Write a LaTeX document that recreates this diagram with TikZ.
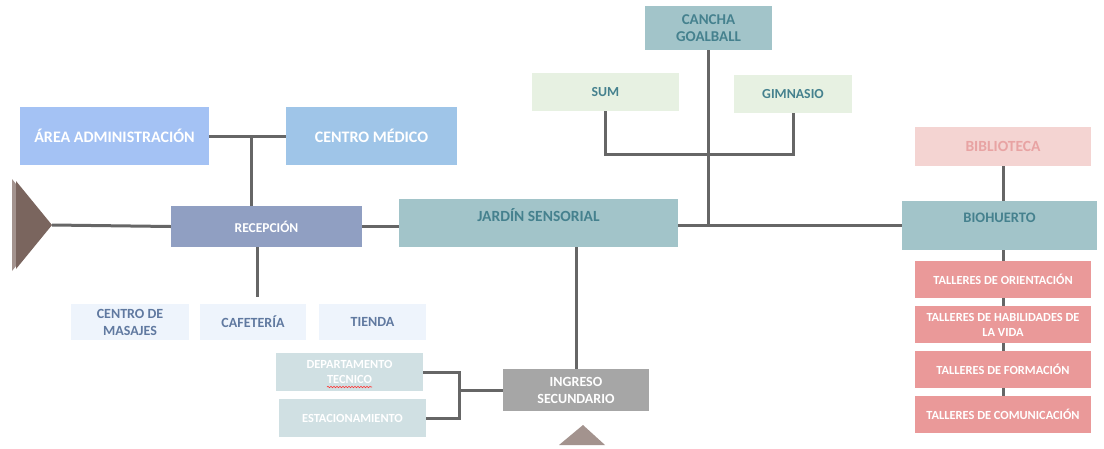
\documentclass[tikz,border=0pt]{standalone}
\usepackage{fontspec}
\setmainfont{Carlito}
\usetikzlibrary{decorations.pathmorphing}

\definecolor{linea}{HTML}{666666}
\definecolor{azuladm}{HTML}{A4C2F4}
\definecolor{azulmed}{HTML}{9FC5E8}
\definecolor{pizarra}{HTML}{909FC2}
\definecolor{hielo}{HTML}{EEF4FC}
\definecolor{hielotxt}{HTML}{6079A0}
\definecolor{grisver}{HTML}{D0E0E3}
\definecolor{gris}{HTML}{A6A6A6}
\definecolor{turquesa}{HTML}{A2C4C9}
\definecolor{turqtxt}{HTML}{45818E}
\definecolor{menta}{HTML}{E7F1E2}
\definecolor{rosa}{HTML}{F4D4D2}
\definecolor{rosatxt}{HTML}{E8A3A3}
\definecolor{salmon}{HTML}{EA9999}
\definecolor{cafe}{HTML}{7A655E}
\definecolor{cafeclaro}{HTML}{A3938E}

\begin{document}
\begin{tikzpicture}[x=1pt,y=-1pt,
    caja/.style={rectangle,inner sep=1pt,align=center,font=\bfseries},
    azul/.style={caja,text=white},
    hielobox/.style={caja,fill=hielo,text=hielotxt,minimum height=36pt,
      font=\bfseries\fontsize{14}{17}\selectfont},
    servicio/.style={caja,fill=grisver,text=white,minimum width=147pt,minimum height=38pt,
      font=\bfseries\fontsize{12.4}{15}\selectfont},
    turq/.style={caja,fill=turquesa,text=turqtxt},
    verde/.style={caja,fill=menta,text=turqtxt,minimum height=38pt,
      font=\bfseries\fontsize{13.8}{16}\selectfont},
    taller/.style={caja,fill=salmon,text=white,minimum width=176pt,minimum height=37pt,
      font=\bfseries\fontsize{12.4}{15}\selectfont},
    conector/.style={draw=linea,line width=3pt}]

\useasboundingbox (0,0) rectangle (1104,448);

% entrances
\fill[cafeclaro] (12,179) -- (49,225) -- (12,271) -- cycle;
\fill[cafe] (16,181) -- (52,225) -- (16,269) -- cycle;
\coordinate (entrada) at (52,225);
\fill[cafeclaro] (559,445) -- (583,425) -- (605,445) -- cycle;

% left block
\node[azul,fill=azuladm,minimum width=189pt,minimum height=58pt,
  font=\bfseries\fontsize{16}{19}\selectfont] (admin) at (114.5,136) {ÁREA ADMINISTRACIÓN};
\node[azul,fill=azulmed,minimum width=171pt,minimum height=58pt,
  font=\bfseries\fontsize{16}{19}\selectfont] (medico) at (371.5,136) {CENTRO MÉDICO};
\node[azul,fill=pizarra,minimum width=191pt,minimum height=41pt,
  font=\bfseries\fontsize{13.5}{16}\selectfont] (recepcion) at (266.5,226.5) {RECEPCIÓN};

\node[hielobox,minimum width=118pt] (masajes) at (130,322) {CENTRO DE\\MASAJES};
\node[hielobox,minimum width=106pt] (cafeteria) at (253,322) {CAFETERÍA};
\node[hielobox,minimum width=107pt] (tienda) at (372.5,322) {TIENDA};

\node[servicio] (depto) at (349.5,372) {DEPARTAMENTO\\TECNICO};
\node[servicio] (estac) at (352.5,418) {ESTACIONAMIENTO};
\node[caja,fill=gris,text=white,minimum width=146pt,minimum height=42pt,
  font=\bfseries\fontsize{14}{17}\selectfont] (ingreso) at (576,390) {INGRESO\\SECUNDARIO};

% spell check mark
\draw[red!80,line width=0.6pt,decorate,decoration={snake,amplitude=0.7pt,segment length=3pt}]
  (327,387) -- (372,387);

% middle block
\node[turq,minimum width=279pt,minimum height=48pt,text depth=17pt,
  font=\bfseries\fontsize{15.5}{18}\selectfont] (jardin) at (538.5,223) {JARDÍN SENSORIAL};
\node[turq,minimum width=127pt,minimum height=44pt,
  font=\bfseries\fontsize{15}{17}\selectfont] (cancha) at (708.5,28) {CANCHA\\GOALBALL};
\node[verde,minimum width=147pt] (sum) at (605.5,92) {SUM};
\node[verde,minimum width=118pt] (gimnasio) at (793,94) {GIMNASIO};

% right block
\node[caja,fill=rosa,text=rosatxt,minimum width=176pt,minimum height=39pt,
  font=\bfseries\fontsize{15.5}{18}\selectfont] (biblioteca) at (1003,146.5) {BIBLIOTECA};
\node[turq,minimum width=195pt,minimum height=49pt,text depth=15pt,
  font=\bfseries\fontsize{14.5}{17}\selectfont] (biohuerto) at (999.5,225.5) {BIOHUERTO};
\node[taller] (t1) at (1003,279.5) {TALLERES DE ORIENTACIÓN};
\node[taller] (t2) at (1003,324.5) {TALLERES DE HABILIDADES DE\\LA VIDA};
\node[taller] (t3) at (1003,369.5) {TALLERES DE FORMACIÓN};
\node[taller] (t4) at (1003,414.5) {TALLERES DE COMUNICACIÓN};

% connectors
\coordinate (adm1) at (251,136);
\coordinate (rec1) at (257,297);
\coordinate (ing1) at (459,390);

\draw[conector] (admin.east) -- (medico.west);
\draw[conector] (adm1) -- (adm1 |- recepcion.north);
\draw[conector] (entrada) -- (recepcion.west);
\draw[conector] (rec1 |- recepcion.south) -- (rec1);
\draw[conector] (recepcion.east) -- (recepcion.east -| jardin.west);
\draw[conector] (jardin.west |- biohuerto.west) ++(279,0) -- (biohuerto.west);
\draw[conector] (cancha.south) -- (cancha.south |- biohuerto.west);
\draw[conector] (sum.south) -- ++(0,43) -| (gimnasio.south);
\draw[conector] (biblioteca.south) -- (biblioteca.south |- biohuerto.north);
\draw[conector] (biohuerto.south -| t1.north) -- (t1.north);
\draw[conector] (t1) -- (t2);
\draw[conector] (t2) -- (t3);
\draw[conector] (t3) -- (t4);
\draw[conector] (jardin.south -| ingreso.north) -- (ingreso.north);
\draw[conector] (depto.east) -| (ing1 |- estac.east) -- (estac.east);
\draw[conector] (ing1) -- (ingreso.west);

\end{tikzpicture}
\end{document}
